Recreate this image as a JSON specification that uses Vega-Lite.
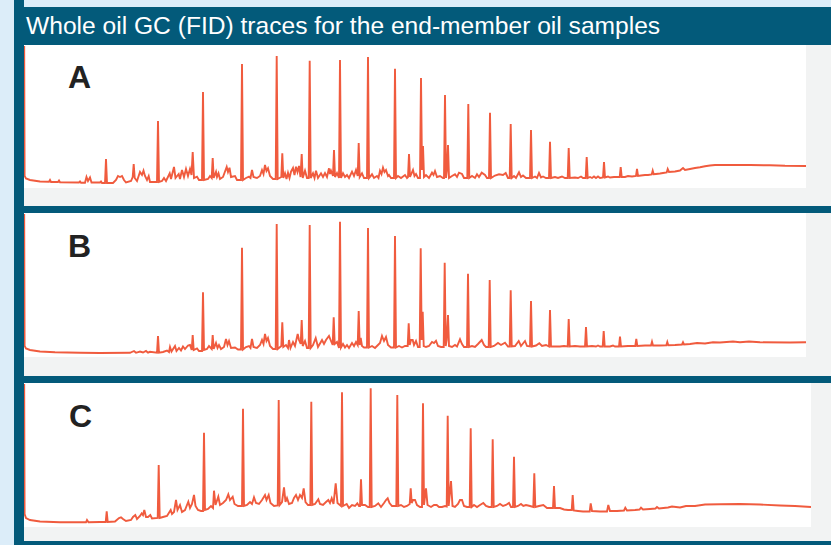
{
"$schema": "https://vega.github.io/schema/vega-lite/v6.json",
"background": "#035a7a",
"padding": 0,
"config": {"view": {"stroke": null}, "concat": {"spacing": 7}},
"datasets": {
"A": [{"t":0.02,"v":160},{"t":0.06,"v":30},{"t":0.2,"v":27.5},{"t":0.6,"v":26},{"t":1.6,"v":24.5},{"t":2.5,"v":24.2},{"t":2.6,"v":26},{"t":2.7,"v":24},{"t":3.4,"v":24},{"t":3.5,"v":25.5},{"t":3.6,"v":23.7},{"t":5.5,"v":23.5},{"t":5.6,"v":24.5},{"t":5.7,"v":23.2},{"t":6.1,"v":23.2},{"t":6.25,"v":29},{"t":6.4,"v":25},{"t":6.6,"v":28.5},{"t":6.75,"v":23.5},{"t":7.6,"v":23.5},{"t":7.7,"v":24.5},{"t":7.8,"v":23},{"t":8.1,"v":23},{"t":8.2,"v":47},{"t":8.3,"v":23},{"t":8.9,"v":23},{"t":9.2,"v":26},{"t":9.4,"v":30},{"t":9.6,"v":29},{"t":9.8,"v":30},{"t":10.0,"v":26},{"t":10.2,"v":23.5},{"t":10.7,"v":25},{"t":10.87,"v":29},{"t":10.97,"v":42},{"t":11.07,"v":28},{"t":11.3,"v":25},{"t":11.6,"v":34},{"t":11.8,"v":31},{"t":11.95,"v":35.3},{"t":12.1,"v":30},{"t":12.3,"v":26},{"t":12.47,"v":30},{"t":12.6,"v":24},{"t":13.3,"v":24},{"t":13.4,"v":85},{"t":13.5,"v":24},{"t":13.8,"v":25},{"t":14.0,"v":28},{"t":14.2,"v":25},{"t":14.57,"v":32.7},{"t":14.7,"v":27},{"t":15.0,"v":39},{"t":15.15,"v":28},{"t":15.47,"v":32},{"t":15.6,"v":27},{"t":15.8,"v":36},{"t":16.0,"v":29},{"t":16.2,"v":37},{"t":16.4,"v":30},{"t":16.6,"v":37},{"t":16.75,"v":31},{"t":16.87,"v":54},{"t":17.0,"v":28},{"t":17.3,"v":29.3},{"t":17.5,"v":26},{"t":17.8,"v":26},{"t":17.9,"v":114},{"t":18.0,"v":26},{"t":18.4,"v":27},{"t":18.6,"v":30},{"t":18.77,"v":28},{"t":18.87,"v":48},{"t":18.97,"v":28},{"t":19.2,"v":34.3},{"t":19.3,"v":29},{"t":19.45,"v":32.7},{"t":19.6,"v":27},{"t":19.9,"v":29},{"t":20.27,"v":39},{"t":20.4,"v":34},{"t":20.55,"v":38.3},{"t":20.7,"v":29},{"t":21.1,"v":30},{"t":21.3,"v":26},{"t":21.7,"v":26},{"t":21.8,"v":142},{"t":21.9,"v":26},{"t":22.2,"v":28},{"t":22.5,"v":29.3},{"t":22.65,"v":28},{"t":22.8,"v":36},{"t":22.95,"v":29},{"t":23.3,"v":28},{"t":23.6,"v":30},{"t":23.8,"v":36},{"t":23.95,"v":32},{"t":24.1,"v":41},{"t":24.25,"v":35},{"t":24.4,"v":37.7},{"t":24.6,"v":30},{"t":24.9,"v":27},{"t":25.17,"v":27},{"t":25.27,"v":150},{"t":25.37,"v":27},{"t":25.73,"v":29},{"t":25.83,"v":52.7},{"t":25.93,"v":28},{"t":26.1,"v":32.7},{"t":26.25,"v":27},{"t":26.4,"v":33.3},{"t":26.55,"v":28},{"t":26.7,"v":34.3},{"t":26.9,"v":38},{"t":27.05,"v":31},{"t":27.2,"v":39.3},{"t":27.35,"v":34},{"t":27.5,"v":40},{"t":27.65,"v":29},{"t":27.77,"v":52},{"t":27.87,"v":28},{"t":28.1,"v":35.3},{"t":28.3,"v":28},{"t":28.47,"v":28},{"t":28.57,"v":145.3},{"t":28.67,"v":28},{"t":28.9,"v":32.7},{"t":29.05,"v":28},{"t":29.2,"v":35.3},{"t":29.4,"v":28},{"t":29.7,"v":32.7},{"t":29.9,"v":29},{"t":30.1,"v":33},{"t":30.3,"v":29},{"t":30.5,"v":37.7},{"t":30.6,"v":32},{"t":30.7,"v":35.3},{"t":30.9,"v":30},{"t":31.0,"v":56},{"t":31.1,"v":29},{"t":31.3,"v":33},{"t":31.5,"v":28},{"t":31.6,"v":146},{"t":31.7,"v":28},{"t":31.9,"v":32.7},{"t":32.1,"v":29},{"t":32.3,"v":31},{"t":32.5,"v":28},{"t":32.8,"v":34.3},{"t":33.0,"v":30},{"t":33.2,"v":36},{"t":33.37,"v":30},{"t":33.47,"v":63},{"t":33.57,"v":29},{"t":33.8,"v":32.7},{"t":34.0,"v":28},{"t":34.3,"v":28},{"t":34.4,"v":149},{"t":34.5,"v":28},{"t":34.8,"v":31.7},{"t":35.0,"v":28},{"t":35.3,"v":30},{"t":35.45,"v":28},{"t":35.6,"v":35.3},{"t":35.75,"v":32},{"t":35.9,"v":38.3},{"t":36.05,"v":34},{"t":36.2,"v":36},{"t":36.4,"v":30},{"t":36.5,"v":31},{"t":36.7,"v":28},{"t":37.0,"v":28},{"t":37.1,"v":137.3},{"t":37.2,"v":28},{"t":37.4,"v":30},{"t":37.7,"v":28},{"t":38.1,"v":31},{"t":38.3,"v":28},{"t":38.4,"v":29},{"t":38.5,"v":52},{"t":38.6,"v":29},{"t":38.9,"v":36},{"t":39.05,"v":30},{"t":39.2,"v":32},{"t":39.4,"v":28},{"t":39.6,"v":28},{"t":39.7,"v":128},{"t":39.8,"v":36},{"t":39.9,"v":60},{"t":40.0,"v":29},{"t":40.2,"v":31},{"t":40.5,"v":28},{"t":40.8,"v":33.3},{"t":40.95,"v":31},{"t":41.1,"v":35},{"t":41.3,"v":29},{"t":41.6,"v":30},{"t":41.9,"v":28},{"t":42.0,"v":28},{"t":42.1,"v":111},{"t":42.2,"v":28},{"t":42.3,"v":36},{"t":42.4,"v":61},{"t":42.5,"v":28},{"t":42.8,"v":30},{"t":43.1,"v":31.7},{"t":43.3,"v":29},{"t":43.5,"v":33.3},{"t":43.8,"v":32},{"t":44.0,"v":28},{"t":44.33,"v":28},{"t":44.43,"v":102},{"t":44.53,"v":28},{"t":44.8,"v":30},{"t":45.1,"v":28},{"t":45.3,"v":31.7},{"t":45.5,"v":29},{"t":45.77,"v":33.3},{"t":46.1,"v":31},{"t":46.3,"v":28},{"t":46.5,"v":28},{"t":46.6,"v":93.3},{"t":46.7,"v":28},{"t":47.1,"v":30.5},{"t":47.5,"v":31.7},{"t":47.9,"v":31},{"t":48.17,"v":33},{"t":48.4,"v":28},{"t":48.57,"v":28},{"t":48.67,"v":82},{"t":48.77,"v":28},{"t":49.0,"v":30},{"t":49.2,"v":28},{"t":49.5,"v":33.7},{"t":49.7,"v":29},{"t":49.9,"v":30.5},{"t":50.2,"v":28},{"t":50.6,"v":28},{"t":50.7,"v":76},{"t":50.8,"v":28},{"t":51.1,"v":29.5},{"t":51.3,"v":28},{"t":51.5,"v":33},{"t":51.7,"v":28.5},{"t":51.9,"v":29.5},{"t":52.2,"v":28},{"t":52.5,"v":28},{"t":52.6,"v":64.3},{"t":52.7,"v":28},{"t":53.1,"v":29},{"t":53.4,"v":28},{"t":53.8,"v":29.5},{"t":54.1,"v":28},{"t":54.37,"v":28},{"t":54.47,"v":58},{"t":54.57,"v":28},{"t":55.1,"v":28.5},{"t":55.4,"v":28},{"t":55.7,"v":29.5},{"t":55.9,"v":28},{"t":56.17,"v":28},{"t":56.27,"v":49},{"t":56.37,"v":28},{"t":56.6,"v":29},{"t":56.8,"v":28},{"t":57.0,"v":29.5},{"t":57.2,"v":28},{"t":57.4,"v":29.5},{"t":57.6,"v":28},{"t":57.9,"v":28.5},{"t":58.0,"v":44},{"t":58.1,"v":28.5},{"t":58.4,"v":29.5},{"t":58.6,"v":28.5},{"t":59.0,"v":29},{"t":59.57,"v":29},{"t":59.67,"v":39},{"t":59.77,"v":29},{"t":60.1,"v":29},{"t":60.4,"v":30},{"t":60.8,"v":29.5},{"t":61.2,"v":30},{"t":61.3,"v":37},{"t":61.4,"v":30},{"t":61.7,"v":30.5},{"t":62.1,"v":31},{"t":62.4,"v":31},{"t":62.77,"v":31.5},{"t":62.87,"v":35.3},{"t":62.97,"v":31.7},{"t":63.2,"v":32},{"t":63.6,"v":32.5},{"t":63.9,"v":33},{"t":64.27,"v":33.5},{"t":64.37,"v":37},{"t":64.5,"v":34},{"t":65.1,"v":34.5},{"t":65.6,"v":35.5},{"t":65.9,"v":38},{"t":66.1,"v":36},{"t":66.6,"v":37},{"t":67.1,"v":38},{"t":67.6,"v":38.7},{"t":68.1,"v":39.7},{"t":68.6,"v":40.5},{"t":69.1,"v":41},{"t":70.6,"v":41},{"t":72.6,"v":41},{"t":74.6,"v":40.7},{"t":76.1,"v":40.2},{"t":78.2,"v":40}],
"B": [{"t":0.02,"v":162},{"t":0.06,"v":30},{"t":0.2,"v":27.5},{"t":0.6,"v":26},{"t":1.6,"v":24.5},{"t":3.1,"v":23.7},{"t":5.6,"v":23.2},{"t":7.6,"v":23},{"t":10.6,"v":23.2},{"t":11.0,"v":25},{"t":11.2,"v":23.2},{"t":11.6,"v":24.5},{"t":11.9,"v":23.5},{"t":12.2,"v":25},{"t":12.4,"v":23.3},{"t":12.6,"v":24.2},{"t":13.3,"v":23.3},{"t":13.4,"v":40},{"t":13.5,"v":23.3},{"t":13.9,"v":24},{"t":14.3,"v":25.5},{"t":14.5,"v":24},{"t":14.6,"v":29},{"t":14.75,"v":24.5},{"t":15.1,"v":30},{"t":15.25,"v":25},{"t":15.5,"v":28},{"t":15.7,"v":25.5},{"t":15.9,"v":29.5},{"t":16.1,"v":27},{"t":16.4,"v":30.5},{"t":16.6,"v":31},{"t":16.77,"v":26},{"t":16.87,"v":41},{"t":16.97,"v":26},{"t":17.3,"v":27.5},{"t":17.5,"v":25},{"t":17.8,"v":25},{"t":17.9,"v":83.7},{"t":18.0,"v":26},{"t":18.3,"v":27},{"t":18.5,"v":30},{"t":18.77,"v":27},{"t":18.87,"v":41},{"t":18.97,"v":27},{"t":19.2,"v":33},{"t":19.35,"v":28},{"t":19.5,"v":31},{"t":19.7,"v":27},{"t":20.0,"v":29},{"t":20.2,"v":37},{"t":20.35,"v":31},{"t":20.5,"v":35},{"t":20.7,"v":28},{"t":21.1,"v":28.5},{"t":21.4,"v":26.5},{"t":21.7,"v":26.5},{"t":21.8,"v":128.3},{"t":21.9,"v":26.5},{"t":22.2,"v":29},{"t":22.5,"v":30},{"t":22.65,"v":28},{"t":22.8,"v":37},{"t":22.95,"v":29},{"t":23.3,"v":28},{"t":23.6,"v":31},{"t":23.8,"v":36},{"t":23.95,"v":32},{"t":24.1,"v":42},{"t":24.25,"v":35},{"t":24.4,"v":38},{"t":24.6,"v":30},{"t":24.9,"v":27},{"t":25.17,"v":27},{"t":25.27,"v":152},{"t":25.37,"v":27},{"t":25.73,"v":30},{"t":25.83,"v":53.7},{"t":25.93,"v":29},{"t":26.2,"v":31},{"t":26.4,"v":28},{"t":26.5,"v":36},{"t":26.65,"v":28},{"t":26.9,"v":34},{"t":27.1,"v":30},{"t":27.37,"v":42},{"t":27.5,"v":36},{"t":27.67,"v":32},{"t":27.77,"v":56},{"t":27.87,"v":30},{"t":28.1,"v":35},{"t":28.3,"v":28},{"t":28.47,"v":28},{"t":28.57,"v":151},{"t":28.67,"v":28},{"t":28.9,"v":31},{"t":29.17,"v":38},{"t":29.4,"v":29},{"t":29.8,"v":36},{"t":30.0,"v":32},{"t":30.2,"v":36},{"t":30.5,"v":40},{"t":30.7,"v":35},{"t":30.87,"v":31},{"t":30.97,"v":58.7},{"t":31.07,"v":32},{"t":31.3,"v":34},{"t":31.5,"v":28},{"t":31.6,"v":154.3},{"t":31.7,"v":28.5},{"t":31.9,"v":32},{"t":32.1,"v":28.5},{"t":32.3,"v":31},{"t":32.5,"v":28},{"t":32.8,"v":33},{"t":33.0,"v":30},{"t":33.2,"v":34},{"t":33.37,"v":31},{"t":33.47,"v":65},{"t":33.57,"v":31},{"t":33.67,"v":38},{"t":33.8,"v":30},{"t":34.0,"v":28.5},{"t":34.3,"v":28.5},{"t":34.4,"v":148},{"t":34.5,"v":28.5},{"t":34.8,"v":30},{"t":35.1,"v":28},{"t":35.4,"v":31},{"t":35.6,"v":33},{"t":35.8,"v":40},{"t":36.0,"v":35},{"t":36.2,"v":39},{"t":36.4,"v":31},{"t":36.7,"v":28.5},{"t":37.0,"v":28.5},{"t":37.1,"v":140},{"t":37.2,"v":28.5},{"t":37.5,"v":30},{"t":37.8,"v":28.5},{"t":38.1,"v":30},{"t":38.37,"v":30},{"t":38.47,"v":52.7},{"t":38.57,"v":31},{"t":38.7,"v":36},{"t":38.87,"v":36},{"t":39.0,"v":31},{"t":39.2,"v":35},{"t":39.4,"v":29},{"t":39.57,"v":29},{"t":39.67,"v":127.7},{"t":39.77,"v":36},{"t":39.87,"v":64.3},{"t":39.97,"v":30},{"t":40.2,"v":29},{"t":40.5,"v":30},{"t":40.8,"v":34},{"t":41.0,"v":33},{"t":41.2,"v":35.3},{"t":41.4,"v":30},{"t":41.7,"v":29},{"t":41.97,"v":29},{"t":42.07,"v":113.3},{"t":42.17,"v":30},{"t":42.27,"v":36},{"t":42.4,"v":61},{"t":42.5,"v":30},{"t":42.8,"v":29},{"t":43.1,"v":31},{"t":43.3,"v":29.5},{"t":43.6,"v":36.7},{"t":43.8,"v":32},{"t":44.0,"v":29},{"t":44.3,"v":29},{"t":44.4,"v":102.3},{"t":44.5,"v":29},{"t":44.8,"v":30},{"t":45.1,"v":29},{"t":45.4,"v":32},{"t":45.77,"v":36},{"t":46.0,"v":31},{"t":46.2,"v":29},{"t":46.47,"v":29},{"t":46.57,"v":96},{"t":46.67,"v":29},{"t":47.0,"v":30},{"t":47.4,"v":33},{"t":47.7,"v":31},{"t":48.1,"v":33.3},{"t":48.4,"v":29.5},{"t":48.57,"v":29.5},{"t":48.67,"v":85.7},{"t":48.77,"v":29.5},{"t":49.1,"v":30},{"t":49.47,"v":35},{"t":49.7,"v":30},{"t":50.1,"v":35},{"t":50.3,"v":30},{"t":50.6,"v":29.5},{"t":50.7,"v":75},{"t":50.8,"v":29.5},{"t":51.2,"v":30.5},{"t":51.53,"v":32.7},{"t":51.8,"v":30},{"t":52.2,"v":31},{"t":52.5,"v":29.5},{"t":52.6,"v":66},{"t":52.7,"v":29.5},{"t":53.1,"v":29.5},{"t":53.6,"v":29.5},{"t":54.0,"v":30},{"t":54.37,"v":29.5},{"t":54.47,"v":57},{"t":54.57,"v":29.5},{"t":55.1,"v":30},{"t":55.6,"v":29.5},{"t":56.1,"v":29.5},{"t":56.2,"v":49},{"t":56.3,"v":29.5},{"t":56.8,"v":30},{"t":57.2,"v":29.5},{"t":57.4,"v":30.5},{"t":57.6,"v":29.5},{"t":57.87,"v":29.5},{"t":57.97,"v":45},{"t":58.07,"v":29.5},{"t":58.6,"v":29.5},{"t":58.9,"v":30.5},{"t":59.1,"v":29.5},{"t":59.5,"v":29.5},{"t":59.6,"v":39.3},{"t":59.7,"v":29.5},{"t":60.4,"v":30},{"t":61.13,"v":30},{"t":61.23,"v":37},{"t":61.33,"v":30},{"t":62.1,"v":30.5},{"t":62.7,"v":30.5},{"t":62.8,"v":34.3},{"t":62.9,"v":30.5},{"t":63.6,"v":30.5},{"t":64.23,"v":30.7},{"t":64.33,"v":34},{"t":64.43,"v":30.7},{"t":65.1,"v":31},{"t":65.8,"v":31.5},{"t":65.9,"v":33.7},{"t":66.0,"v":31.5},{"t":66.6,"v":32},{"t":67.3,"v":33},{"t":68.1,"v":32.5},{"t":68.9,"v":33.7},{"t":69.6,"v":33.5},{"t":70.9,"v":34.5},{"t":71.6,"v":33.7},{"t":72.5,"v":34.5},{"t":73.6,"v":33.7},{"t":76.6,"v":33.5},{"t":78.2,"v":33.7}],
"C": [{"t":0.02,"v":157},{"t":0.06,"v":27},{"t":0.2,"v":23},{"t":0.6,"v":21},{"t":1.6,"v":19.5},{"t":3.6,"v":18.7},{"t":6.2,"v":18.7},{"t":6.3,"v":21},{"t":6.45,"v":18.7},{"t":7.6,"v":19},{"t":8.17,"v":19},{"t":8.27,"v":29.7},{"t":8.37,"v":19},{"t":9.1,"v":19.5},{"t":9.5,"v":23},{"t":9.7,"v":23.7},{"t":9.9,"v":22},{"t":10.2,"v":20},{"t":10.7,"v":21},{"t":10.9,"v":24},{"t":11.13,"v":26},{"t":11.3,"v":22},{"t":11.6,"v":25},{"t":11.77,"v":27.7},{"t":11.9,"v":26},{"t":12.03,"v":31},{"t":12.2,"v":24},{"t":12.4,"v":24},{"t":12.63,"v":26},{"t":12.8,"v":22.5},{"t":13.37,"v":23},{"t":13.47,"v":76},{"t":13.57,"v":23},{"t":13.9,"v":24},{"t":14.3,"v":25},{"t":14.67,"v":31},{"t":14.8,"v":27},{"t":15.0,"v":29},{"t":15.2,"v":41},{"t":15.35,"v":31},{"t":15.6,"v":36},{"t":15.8,"v":29},{"t":16.1,"v":31},{"t":16.43,"v":39.3},{"t":16.6,"v":33},{"t":16.8,"v":37},{"t":17.0,"v":46},{"t":17.15,"v":35},{"t":17.4,"v":31},{"t":17.7,"v":30},{"t":17.9,"v":30},{"t":18.0,"v":108.3},{"t":18.1,"v":31},{"t":18.4,"v":32},{"t":18.7,"v":35},{"t":18.9,"v":33},{"t":19.0,"v":50.3},{"t":19.15,"v":36},{"t":19.43,"v":44.3},{"t":19.6,"v":36},{"t":19.9,"v":38},{"t":20.2,"v":41},{"t":20.43,"v":46.7},{"t":20.6,"v":41},{"t":20.87,"v":44.3},{"t":21.05,"v":37},{"t":21.4,"v":35},{"t":21.8,"v":35},{"t":21.9,"v":132.3},{"t":22.0,"v":35},{"t":22.3,"v":36},{"t":22.6,"v":39},{"t":22.8,"v":37},{"t":23.0,"v":43.7},{"t":23.2,"v":38},{"t":23.5,"v":37},{"t":23.8,"v":41},{"t":24.1,"v":46},{"t":24.25,"v":41},{"t":24.47,"v":46},{"t":24.65,"v":38},{"t":25.0,"v":35},{"t":25.37,"v":35.5},{"t":25.47,"v":141},{"t":25.57,"v":36},{"t":25.8,"v":39},{"t":26.0,"v":53.7},{"t":26.15,"v":39},{"t":26.3,"v":43},{"t":26.5,"v":37},{"t":26.8,"v":38},{"t":27.0,"v":43},{"t":27.2,"v":46},{"t":27.4,"v":41},{"t":27.6,"v":46},{"t":27.8,"v":43},{"t":27.97,"v":52.7},{"t":28.15,"v":39},{"t":28.4,"v":36},{"t":28.63,"v":36},{"t":28.73,"v":139.3},{"t":28.83,"v":36},{"t":29.1,"v":37},{"t":29.43,"v":41.7},{"t":29.6,"v":37},{"t":29.9,"v":36},{"t":30.2,"v":39},{"t":30.43,"v":41},{"t":30.6,"v":38},{"t":30.77,"v":42.7},{"t":30.95,"v":37},{"t":31.17,"v":57.7},{"t":31.35,"v":38},{"t":31.7,"v":35},{"t":31.8,"v":148.7},{"t":31.9,"v":35},{"t":32.27,"v":37},{"t":32.5,"v":33},{"t":32.8,"v":36},{"t":33.1,"v":35},{"t":33.33,"v":37.7},{"t":33.5,"v":35},{"t":33.6,"v":35},{"t":33.7,"v":61.7},{"t":33.8,"v":36},{"t":34.1,"v":36},{"t":34.4,"v":34},{"t":34.57,"v":34},{"t":34.67,"v":152.7},{"t":34.77,"v":34},{"t":35.1,"v":35},{"t":35.43,"v":37.7},{"t":35.7,"v":34},{"t":36.0,"v":38},{"t":36.2,"v":41},{"t":36.37,"v":42.7},{"t":36.55,"v":38},{"t":36.8,"v":35},{"t":37.23,"v":35},{"t":37.33,"v":146},{"t":37.43,"v":35},{"t":37.7,"v":36},{"t":38.0,"v":34},{"t":38.3,"v":35},{"t":38.57,"v":37},{"t":38.67,"v":52.7},{"t":38.77,"v":38},{"t":38.9,"v":41},{"t":39.1,"v":41},{"t":39.3,"v":36},{"t":39.6,"v":34},{"t":39.8,"v":34},{"t":39.9,"v":137.7},{"t":40.0,"v":36},{"t":40.2,"v":52.7},{"t":40.35,"v":36},{"t":40.7,"v":34},{"t":41.0,"v":36},{"t":41.27,"v":36},{"t":41.5,"v":34},{"t":41.8,"v":34},{"t":42.1,"v":35},{"t":42.27,"v":34.5},{"t":42.37,"v":125.3},{"t":42.47,"v":35},{"t":42.7,"v":60},{"t":42.85,"v":35},{"t":43.1,"v":34},{"t":43.4,"v":37},{"t":43.6,"v":41},{"t":43.8,"v":41},{"t":44.0,"v":35},{"t":44.3,"v":34},{"t":44.57,"v":34},{"t":44.67,"v":112.7},{"t":44.77,"v":34},{"t":45.0,"v":36},{"t":45.3,"v":34},{"t":45.6,"v":36},{"t":45.93,"v":38},{"t":46.2,"v":35},{"t":46.5,"v":34},{"t":46.77,"v":34},{"t":46.87,"v":101.7},{"t":46.97,"v":34},{"t":47.3,"v":35},{"t":47.6,"v":37},{"t":47.9,"v":35},{"t":48.2,"v":36},{"t":48.5,"v":38},{"t":48.7,"v":34},{"t":48.9,"v":34},{"t":49.0,"v":84.3},{"t":49.1,"v":34},{"t":49.4,"v":35},{"t":49.7,"v":37},{"t":49.93,"v":35},{"t":50.2,"v":36},{"t":50.6,"v":35},{"t":50.93,"v":34},{"t":51.03,"v":67.7},{"t":51.13,"v":34},{"t":51.5,"v":35},{"t":51.93,"v":36},{"t":52.3,"v":33},{"t":52.6,"v":33},{"t":52.9,"v":33},{"t":53.0,"v":55},{"t":53.1,"v":33},{"t":53.6,"v":33},{"t":54.0,"v":31.5},{"t":54.4,"v":31},{"t":54.77,"v":31},{"t":54.87,"v":46},{"t":54.97,"v":30.5},{"t":55.4,"v":30},{"t":55.9,"v":29.5},{"t":56.57,"v":29.5},{"t":56.67,"v":37.7},{"t":56.8,"v":30},{"t":57.6,"v":29.5},{"t":58.3,"v":29.5},{"t":58.43,"v":36},{"t":58.6,"v":30},{"t":59.3,"v":30},{"t":60.0,"v":30.5},{"t":60.13,"v":33.3},{"t":60.3,"v":30.5},{"t":61.1,"v":31},{"t":61.55,"v":31.5},{"t":61.7,"v":33.3},{"t":61.9,"v":31.5},{"t":62.6,"v":32},{"t":63.15,"v":32.5},{"t":63.3,"v":34},{"t":63.5,"v":32.5},{"t":64.4,"v":33.5},{"t":64.8,"v":34.5},{"t":65.6,"v":33.5},{"t":66.2,"v":35},{"t":67.1,"v":35},{"t":68.1,"v":36.5},{"t":69.6,"v":36.7},{"t":71.6,"v":37},{"t":73.6,"v":36.5},{"t":75.6,"v":35.5},{"t":77.1,"v":35},{"t":78.7,"v":34}]
},
"hconcat": [
  {"width": 14, "height": 545, "view": {"fill": "#dcedf9", "stroke": null}, "data": {"values": [{}]}, "mark": {"type": "point", "opacity": 0}},
  {"vconcat": [
    {"width": 807, "height": 7, "view": {"fill": "#dcedf9", "stroke": null}, "data": {"values": [{}]}, "mark": {"type": "point", "opacity": 0, "size": 1}},
    {"width": 807, "height": 161, "view": {"fill": "#f2f3f3", "stroke": null},
     "title": {"text": "Whole oil GC (FID) traces for the end-member oil samples", "anchor": "start", "color": "#ffffff", "font": "Liberation Sans", "fontSize": 24.6, "fontWeight": "normal", "offset": 5, "dx": 2},
     "layer": [
      {"data": {"values": [{}]}, "mark": {"type": "rect", "color": "#ffffff"},
       "encoding": {"x": {"datum": 0, "type": "quantitative", "scale": {"domain": [0, 80.7], "nice": false, "zero": false}, "axis": null}, "x2": {"datum": 78.2},
                    "y": {"datum": 18, "type": "quantitative", "scale": {"domain": [0, 161], "nice": false, "zero": false}, "axis": null}, "y2": {"datum": 161}}},
      {"data": {"name": "A"}, "mark": {"type": "line", "color": "#f05b3e", "strokeWidth": 1.9, "clip": true},
       "encoding": {"x": {"field": "t", "type": "quantitative", "scale": {"domain": [0, 80.7], "nice": false, "zero": false}, "axis": null},
                    "y": {"field": "v", "type": "quantitative", "scale": {"domain": [0, 161], "nice": false, "zero": false}, "axis": null}}},
      {"data": {"values": [{}]}, "mark": {"type": "text", "text": "A", "font": "Liberation Sans", "fontWeight": "bold", "fontSize": 32, "color": "#222222", "align": "left", "baseline": "alphabetic"},
       "encoding": {"x": {"datum": 4.4, "type": "quantitative"}, "y": {"datum": 118, "type": "quantitative"}}}
     ]},
    {"width": 807, "height": 163, "view": {"fill": "#f2f3f3", "stroke": null},
     "layer": [
      {"data": {"values": [{}]}, "mark": {"type": "rect", "color": "#ffffff"},
       "encoding": {"x": {"datum": 0, "type": "quantitative", "scale": {"domain": [0, 80.7], "nice": false, "zero": false}, "axis": null}, "x2": {"datum": 78.2},
                    "y": {"datum": 19, "type": "quantitative", "scale": {"domain": [0, 163], "nice": false, "zero": false}, "axis": null}, "y2": {"datum": 163}}},
      {"data": {"name": "B"}, "mark": {"type": "line", "color": "#f05b3e", "strokeWidth": 1.9, "clip": true},
       "encoding": {"x": {"field": "t", "type": "quantitative", "scale": {"domain": [0, 80.7], "nice": false, "zero": false}, "axis": null},
                    "y": {"field": "v", "type": "quantitative", "scale": {"domain": [0, 163], "nice": false, "zero": false}, "axis": null}}},
      {"data": {"values": [{}]}, "mark": {"type": "text", "text": "B", "font": "Liberation Sans", "fontWeight": "bold", "fontSize": 32, "color": "#222222", "align": "left", "baseline": "alphabetic"},
       "encoding": {"x": {"datum": 4.4, "type": "quantitative"}, "y": {"datum": 119, "type": "quantitative"}}}
     ]},
    {"width": 807, "height": 158, "view": {"fill": "#f2f3f3", "stroke": null},
     "layer": [
      {"data": {"values": [{}]}, "mark": {"type": "rect", "color": "#ffffff"},
       "encoding": {"x": {"datum": 0, "type": "quantitative", "scale": {"domain": [0, 80.7], "nice": false, "zero": false}, "axis": null}, "x2": {"datum": 78.7},
                    "y": {"datum": 14, "type": "quantitative", "scale": {"domain": [0, 158], "nice": false, "zero": false}, "axis": null}, "y2": {"datum": 158}}},
      {"data": {"name": "C"}, "mark": {"type": "line", "color": "#f05b3e", "strokeWidth": 1.9, "clip": true},
       "encoding": {"x": {"field": "t", "type": "quantitative", "scale": {"domain": [0, 80.7], "nice": false, "zero": false}, "axis": null},
                    "y": {"field": "v", "type": "quantitative", "scale": {"domain": [0, 158], "nice": false, "zero": false}, "axis": null}}},
      {"data": {"values": [{}]}, "mark": {"type": "text", "text": "C", "font": "Liberation Sans", "fontWeight": "bold", "fontSize": 32, "color": "#222222", "align": "left", "baseline": "alphabetic"},
       "encoding": {"x": {"datum": 4.5, "type": "quantitative"}, "y": {"datum": 114, "type": "quantitative"}}}
     ]}
  ]}
],
"spacing": 10
}
